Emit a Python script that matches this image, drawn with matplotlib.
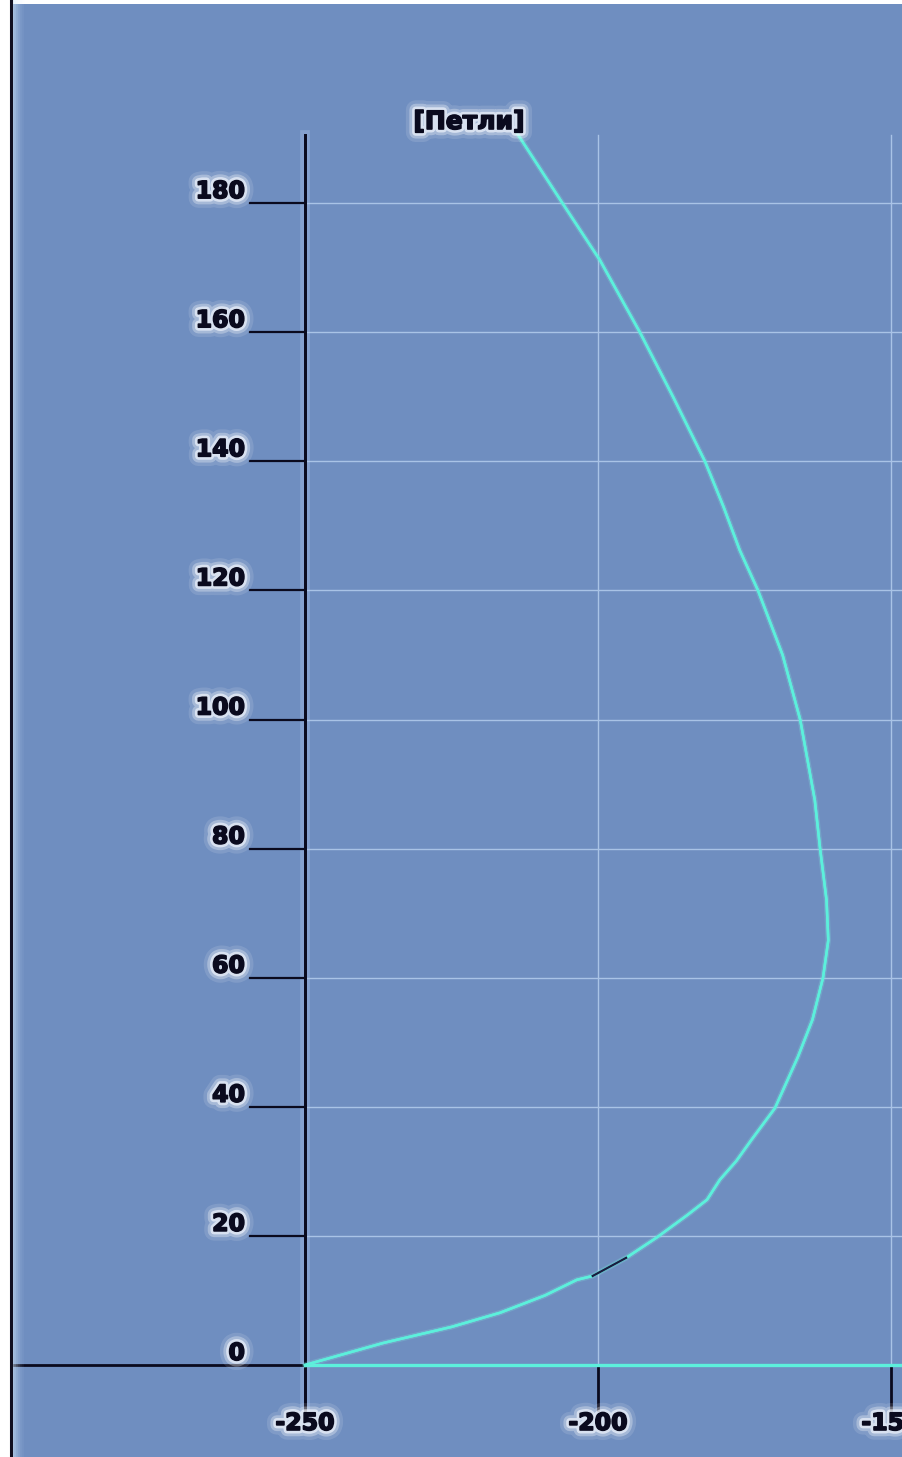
import numpy as np
import matplotlib
matplotlib.use('Agg')
import matplotlib.pyplot as plt
import matplotlib.patheffects as pe
from matplotlib.lines import Line2D

# loop trace
x_loop = [-250, -236.7, -225.0, -216.7, -209.0, -203.6, -200.9, -195.2, -189.9, -184.8,
          -181.4, -179.2, -176.4, -173.8, -169.8, -165.9, -163.4, -161.6, -160.7, -161.0,
          -162.1, -163.0, -165.5, -168.5, -172.7, -175.8, -178.6, -181.7, -187.2, -192.8,
          -199.7, -206.0, -213.8]
y_loop = [0, 3.4, 5.9, 8.1, 10.8, 13.2, 13.8, 16.6, 19.8, 23.2,
          25.6, 28.7, 31.6, 34.9, 39.8, 47.7, 53.5, 60.0, 65.8, 72.0,
          80.0, 87.5, 100.0, 110.0, 120.0, 126.2, 133.0, 139.9, 150.0, 159.9,
          171.2, 179.9, 190.8]
dark_part = (6, 7)   # short dark piece of the trace

y_ticks = [0, 20, 40, 60, 80, 100, 120, 140, 160, 180]
x_ticks = [-250, -200, -150]
title = '[Петли]'

bg = '#6f8ec0'
grid_c = '#a9c3e6'
trace_c = '#5cf0dc'
ink = '#0a0a1e'

W, H = 902, 1457
fig = plt.figure(figsize=(W / 100, H / 100), dpi=100, facecolor='white')
ax = fig.add_axes([10 / W, 0, 1 - 10 / W, 1 - 4 / H])
ax.set_facecolor(bg)
for s in ax.spines.values():
    s.set_visible(False)
ax.set_xticks([])
ax.set_yticks([])

px_x = 50 / 293      # data units per pixel
px_y = 20 / 129.1
ax.set_xlim(-250 - 295 * px_x, -250 + 597 * px_x)
ax.set_ylim(-92 * px_y, (1365 - 4) * px_y)

x0, x1 = ax.get_xlim()
top = 190.5
bottom = -7.0

glow = [pe.withStroke(linewidth=14, foreground='white', alpha=0.12),
        pe.withStroke(linewidth=9, foreground='white', alpha=0.3),
        pe.withStroke(linewidth=5, foreground='#f4f7ff', alpha=0.65),
        pe.withStroke(linewidth=1.2, foreground=ink),
        pe.Normal()]

# grid
for v in y_ticks[1:]:
    ax.plot([-250, x1], [v, v], color=grid_c, lw=1.0, zorder=1)
for v in x_ticks[1:]:
    ax.plot([v, v], [0, top], color=grid_c, lw=1.0, zorder=1)

# axes and ticks
ax.plot([-250, -250], [bottom, top], color=ink, lw=2.0, zorder=3,
        path_effects=[pe.withStroke(linewidth=7, foreground='#b8ccf4', alpha=0.3), pe.Normal()])
ax.plot([x0, -250], [0, 0], color=ink, lw=2.0, zorder=3)
for v in y_ticks[1:]:
    ax.plot([-250 - 55 * px_x, -250], [v, v], color=ink, lw=1.6, zorder=3)
for v in x_ticks[1:]:
    ax.plot([v, v], [0, bottom], color=ink, lw=2.0, zorder=3)

# zero line and trace
ax.plot([-250, x1], [0, 0], color=trace_c, lw=2.4, zorder=4)
ax.plot(x_loop, y_loop, color=trace_c, lw=1.8, zorder=5,
        path_effects=[pe.withStroke(linewidth=4, foreground='#7fe8e0', alpha=0.25), pe.Normal()])
i, j = dark_part
ax.plot(x_loop[i:j + 1], y_loop[i:j + 1], color='#1a1a40', lw=1.6, zorder=6)

# labels
for v in y_ticks:
    ax.text(-250 - 60 * px_x, v + 12 * px_y, str(v), ha='right', va='center',
            fontsize=17, fontweight='bold', color=ink, path_effects=glow, zorder=7)
for v in x_ticks:
    ax.text(v, -58 * px_y, str(v), ha='center', va='center',
            fontsize=17, fontweight='bold', color=ink, path_effects=glow, zorder=7,
            clip_on=False)
ax.text(-250 + 164 * px_x, 1243 * px_y, title, ha='center', va='center',
        fontsize=18, fontweight='bold', color=ink, path_effects=glow, zorder=7)

# left frame edge
for k, a in enumerate([0.55, 0.4, 0.28, 0.18, 0.1, 0.05]):
    fig.add_artist(Line2D([(13 + 2 * k) / W] * 2, [0, 1], color='#d8f0ff', lw=1.6, alpha=a))
fig.add_artist(Line2D([11 / W] * 2, [0, 1], color='#101020', lw=2.2))

fig.savefig('out.png', dpi=100, facecolor='white')
